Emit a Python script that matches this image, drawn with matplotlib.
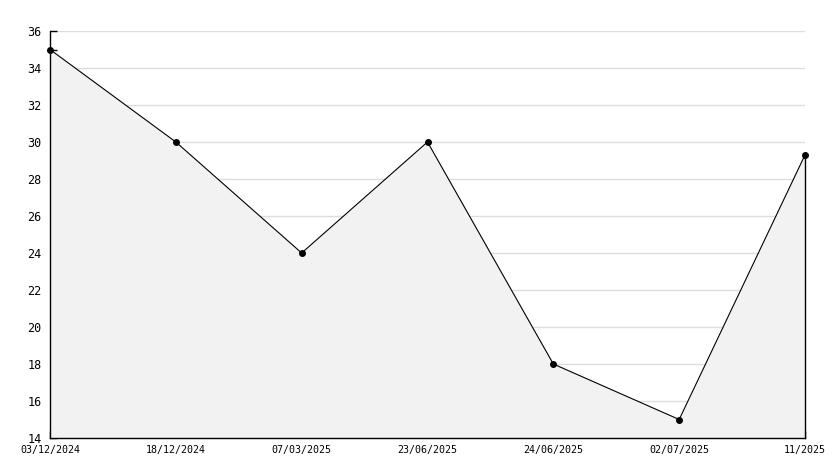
import matplotlib
matplotlib.use("Agg")
import matplotlib.pyplot as plt
from matplotlib.ticker import MultipleLocator

labels = ["03/12/2024", "18/12/2024", "07/03/2025", "23/06/2025", "24/06/2025", "02/07/2025", "11/2025"]
values = [35, 30, 24, 30, 18, 15, 29.3]

W, H = 834, 468
fig = plt.figure(figsize=(W / 100, H / 100), dpi=100)
ax = fig.add_axes([50 / W, (H - 438) / H, (805 - 50) / W, (438 - 31) / H])

x = list(range(len(values)))
ax.fill_between(x, values, 14, color="#f2f2f2", zorder=1, linewidth=0)
ax.plot(x, values, color="black", linewidth=0.8, marker="o", markersize=4,
        zorder=5, clip_on=False)
ax.plot([x[-1], x[-1]], [14, values[-1]], color="black", linewidth=1,
        zorder=5, clip_on=False)

ax.set_xlim(0, len(values) - 1)
ax.set_ylim(14, 36)
ax.yaxis.set_major_locator(MultipleLocator(2))
ax.yaxis.set_minor_locator(MultipleLocator(1))
ax.grid(axis="y", which="major", color="#dddddd", linewidth=1, zorder=0)
ax.set_axisbelow(True)

ax.set_xticks(x)
ax.set_xticklabels(labels)
for s in ["top", "right"]:
    ax.spines[s].set_visible(False)
for s in ["left", "bottom"]:
    ax.spines[s].set_linewidth(1)
    ax.spines[s].set_zorder(4)
ax.tick_params(axis="both", which="both", direction="in", width=1, colors="black")
ax.tick_params(axis="both", which="major", length=5)
ax.tick_params(axis="y", which="minor", length=5)
ax.tick_params(axis="y", pad=6, labelsize=8.5)
ax.tick_params(axis="x", pad=5, labelsize=7.2)
for t in ax.get_xticklabels() + ax.get_yticklabels():
    t.set_fontfamily("DejaVu Sans Mono")

fig.savefig("out.png", dpi=100)
